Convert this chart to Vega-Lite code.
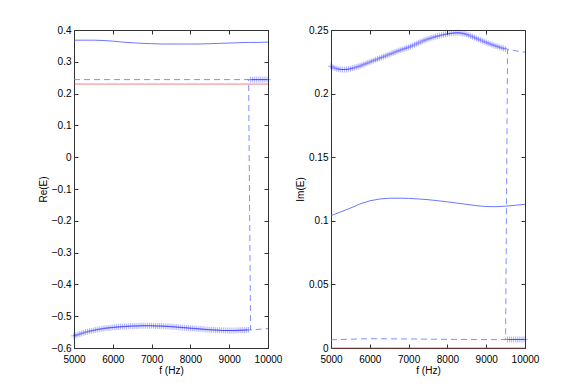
{
"$schema":"https://vega.github.io/schema/vega-lite/v6.json",
"background":"white",
"padding":{"left":37,"top":24,"right":5,"bottom":5},
"spacing":63,
"bounds":"flush",
"config":{
 "view":{"stroke":"#333333","strokeWidth":1},
 "axis":{"labelFont":"Liberation Sans","labelFontSize":10,"labelColor":"#000000","titleFont":"Liberation Sans","titleFontSize":10,"titleFontWeight":"normal","titleColor":"#000000","tickColor":"#333333","domainColor":"#333333","tickSize":-4,"grid":false,"labelPadding":7,"titlePadding":3,"labelOverlap":false,"labelFlush":false},
 "axisBottom":{"labelPadding":10,"titlePadding":1}
},
"datasets":{
 "reS":[{"f":5000,"v":0.368},{"f":5250,"v":0.368},{"f":5500,"v":0.368},{"f":5750,"v":0.367},{"f":6000,"v":0.365},{"f":6250,"v":0.362},{"f":6500,"v":0.36},{"f":6750,"v":0.358},{"f":7000,"v":0.357},{"f":7250,"v":0.356},{"f":7500,"v":0.356},{"f":7750,"v":0.356},{"f":8000,"v":0.356},{"f":8250,"v":0.356},{"f":8500,"v":0.357},{"f":8750,"v":0.358},{"f":9000,"v":0.359},{"f":9250,"v":0.36},{"f":9500,"v":0.361},{"f":9750,"v":0.361},{"f":10000,"v":0.362}],
 "reR":[{"f":5000,"v":0.23},{"f":10000,"v":0.23}],
 "reB":[{"f":5000,"v":0.244},{"f":9500,"v":0.244},{"f":9550,"v":-0.543},{"f":10000,"v":-0.539}],
 "reA":[{"f":5000,"v":-0.562},{"f":5050,"v":-0.56},{"f":5100,"v":-0.558},{"f":5150,"v":-0.556},{"f":5200,"v":-0.554},{"f":5250,"v":-0.552},{"f":5300,"v":-0.55},{"f":5350,"v":-0.549},{"f":5400,"v":-0.547},{"f":5450,"v":-0.546},{"f":5500,"v":-0.545},{"f":5550,"v":-0.543},{"f":5600,"v":-0.542},{"f":5650,"v":-0.541},{"f":5700,"v":-0.54},{"f":5750,"v":-0.539},{"f":5800,"v":-0.538},{"f":5850,"v":-0.537},{"f":5900,"v":-0.537},{"f":5950,"v":-0.536},{"f":6000,"v":-0.535},{"f":6050,"v":-0.535},{"f":6100,"v":-0.534},{"f":6150,"v":-0.534},{"f":6200,"v":-0.533},{"f":6250,"v":-0.533},{"f":6300,"v":-0.532},{"f":6350,"v":-0.532},{"f":6400,"v":-0.532},{"f":6450,"v":-0.531},{"f":6500,"v":-0.531},{"f":6550,"v":-0.531},{"f":6600,"v":-0.531},{"f":6650,"v":-0.531},{"f":6700,"v":-0.53},{"f":6750,"v":-0.53},{"f":6800,"v":-0.53},{"f":6850,"v":-0.53},{"f":6900,"v":-0.53},{"f":6950,"v":-0.53},{"f":7000,"v":-0.53},{"f":7050,"v":-0.53},{"f":7100,"v":-0.531},{"f":7150,"v":-0.531},{"f":7200,"v":-0.531},{"f":7250,"v":-0.531},{"f":7300,"v":-0.531},{"f":7350,"v":-0.532},{"f":7400,"v":-0.532},{"f":7450,"v":-0.532},{"f":7500,"v":-0.533},{"f":7550,"v":-0.533},{"f":7600,"v":-0.534},{"f":7650,"v":-0.534},{"f":7700,"v":-0.535},{"f":7750,"v":-0.535},{"f":7800,"v":-0.536},{"f":7850,"v":-0.536},{"f":7900,"v":-0.537},{"f":7950,"v":-0.537},{"f":8000,"v":-0.538},{"f":8050,"v":-0.538},{"f":8100,"v":-0.539},{"f":8150,"v":-0.539},{"f":8200,"v":-0.54},{"f":8250,"v":-0.54},{"f":8300,"v":-0.541},{"f":8350,"v":-0.541},{"f":8400,"v":-0.542},{"f":8450,"v":-0.542},{"f":8500,"v":-0.543},{"f":8550,"v":-0.543},{"f":8600,"v":-0.543},{"f":8650,"v":-0.544},{"f":8700,"v":-0.544},{"f":8750,"v":-0.544},{"f":8800,"v":-0.545},{"f":8850,"v":-0.545},{"f":8900,"v":-0.545},{"f":8950,"v":-0.545},{"f":9000,"v":-0.545},{"f":9050,"v":-0.545},{"f":9100,"v":-0.545},{"f":9150,"v":-0.545},{"f":9200,"v":-0.545},{"f":9250,"v":-0.544},{"f":9300,"v":-0.544},{"f":9350,"v":-0.544},{"f":9400,"v":-0.544},{"f":9450,"v":-0.543},{"f":9500,"v":-0.543},{"f":9550,"v":0.244},{"f":9600,"v":0.244},{"f":9650,"v":0.244},{"f":9700,"v":0.244},{"f":9750,"v":0.244},{"f":9800,"v":0.244},{"f":9850,"v":0.244},{"f":9900,"v":0.244},{"f":9950,"v":0.244},{"f":10000,"v":0.244}],
 "imS":[{"f":5000,"v":0.104},{"f":5250,"v":0.107},{"f":5500,"v":0.11},{"f":5750,"v":0.1133},{"f":6000,"v":0.1157},{"f":6250,"v":0.1171},{"f":6500,"v":0.1177},{"f":6750,"v":0.1178},{"f":7000,"v":0.1176},{"f":7250,"v":0.1172},{"f":7500,"v":0.1166},{"f":7750,"v":0.1158},{"f":8000,"v":0.1149},{"f":8250,"v":0.1139},{"f":8500,"v":0.1129},{"f":8750,"v":0.1119},{"f":9000,"v":0.1112},{"f":9250,"v":0.1111},{"f":9500,"v":0.1115},{"f":9750,"v":0.1122},{"f":10000,"v":0.113}],
 "imR":[{"f":5000,"v":0},{"f":10000,"v":0}],
 "imB":[{"f":5000,"v":0.0065},{"f":6000,"v":0.0073},{"f":7000,"v":0.0071},{"f":8000,"v":0.0068},{"f":9000,"v":0.0066},{"f":9500,"v":0.0066},{"f":9550,"v":0.2346},{"f":10000,"v":0.2325}],
 "imA":[{"f":5000,"v":0.2215},{"f":5050,"v":0.2207},{"f":5100,"v":0.22},{"f":5150,"v":0.2195},{"f":5200,"v":0.2192},{"f":5250,"v":0.219},{"f":5300,"v":0.2189},{"f":5350,"v":0.2189},{"f":5400,"v":0.219},{"f":5450,"v":0.2192},{"f":5500,"v":0.2195},{"f":5550,"v":0.2199},{"f":5600,"v":0.2203},{"f":5650,"v":0.2208},{"f":5700,"v":0.2213},{"f":5750,"v":0.2218},{"f":5800,"v":0.2224},{"f":5850,"v":0.223},{"f":5900,"v":0.2236},{"f":5950,"v":0.2242},{"f":6000,"v":0.2248},{"f":6050,"v":0.2254},{"f":6100,"v":0.226},{"f":6150,"v":0.2266},{"f":6200,"v":0.2272},{"f":6250,"v":0.2278},{"f":6300,"v":0.2284},{"f":6350,"v":0.229},{"f":6400,"v":0.2296},{"f":6450,"v":0.2302},{"f":6500,"v":0.2308},{"f":6550,"v":0.2314},{"f":6600,"v":0.232},{"f":6650,"v":0.2326},{"f":6700,"v":0.2332},{"f":6750,"v":0.2338},{"f":6800,"v":0.2343},{"f":6850,"v":0.2349},{"f":6900,"v":0.2354},{"f":6950,"v":0.2359},{"f":7000,"v":0.2364},{"f":7050,"v":0.237},{"f":7100,"v":0.2377},{"f":7150,"v":0.2384},{"f":7200,"v":0.2391},{"f":7250,"v":0.2398},{"f":7300,"v":0.2405},{"f":7350,"v":0.2412},{"f":7400,"v":0.2418},{"f":7450,"v":0.2424},{"f":7500,"v":0.2429},{"f":7550,"v":0.2434},{"f":7600,"v":0.2439},{"f":7650,"v":0.2444},{"f":7700,"v":0.2448},{"f":7750,"v":0.2452},{"f":7800,"v":0.2456},{"f":7850,"v":0.246},{"f":7900,"v":0.2463},{"f":7950,"v":0.2466},{"f":8000,"v":0.2469},{"f":8050,"v":0.2472},{"f":8100,"v":0.2474},{"f":8150,"v":0.2476},{"f":8200,"v":0.2477},{"f":8250,"v":0.2478},{"f":8300,"v":0.2478},{"f":8350,"v":0.2476},{"f":8400,"v":0.2473},{"f":8450,"v":0.2469},{"f":8500,"v":0.2465},{"f":8550,"v":0.2459},{"f":8600,"v":0.2453},{"f":8650,"v":0.2447},{"f":8700,"v":0.244},{"f":8750,"v":0.2434},{"f":8800,"v":0.2427},{"f":8850,"v":0.2421},{"f":8900,"v":0.2414},{"f":8950,"v":0.2408},{"f":9000,"v":0.2402},{"f":9050,"v":0.2396},{"f":9100,"v":0.239},{"f":9150,"v":0.2385},{"f":9200,"v":0.2379},{"f":9250,"v":0.2374},{"f":9300,"v":0.2369},{"f":9350,"v":0.2364},{"f":9400,"v":0.2359},{"f":9450,"v":0.2355},{"f":9500,"v":0.235},{"f":9550,"v":0.0067},{"f":9600,"v":0.0067},{"f":9650,"v":0.0067},{"f":9700,"v":0.0067},{"f":9750,"v":0.0067},{"f":9800,"v":0.0067},{"f":9850,"v":0.0067},{"f":9900,"v":0.0067},{"f":9950,"v":0.0067},{"f":10000,"v":0.0067}]
},
"hconcat":[
 {"width":194,"height":318,
  "layer":[
   {"data":{"name":"reS"},"mark":{"type":"line","color":"#4455ff","strokeWidth":0.8},
    "encoding":{"x":{"field":"f","type":"quantitative","scale":{"domain":[5000,10000],"nice":false},"axis":{"orient":"bottom","values":[5000,6000,7000,8000,9000,10000],"format":"d","title":"f (Hz)"}},
                "y":{"field":"v","type":"quantitative","scale":{"domain":[-0.6,0.4],"nice":false,"zero":false},"axis":{"orient":"left","values":[-0.6,-0.5,-0.4,-0.3,-0.2,-0.1,0,0.1,0.2,0.3,0.4],"format":".1~f","title":"Re(E)"}}}},
   {"data":{"name":"reR"},"mark":{"type":"line","color":"#e03030","strokeWidth":0.6},
    "encoding":{"x":{"field":"f","type":"quantitative","axis":{"orient":"top","values":[5000,6000,7000,8000,9000,10000],"labels":false,"title":null,"domain":false}},
                "y":{"field":"v","type":"quantitative","axis":{"orient":"right","values":[-0.6,-0.5,-0.4,-0.3,-0.2,-0.1,0,0.1,0.2,0.3,0.4],"labels":false,"title":null,"domain":false}}}},
   {"data":{"name":"reB"},"mark":{"type":"line","color":"#6272ff","strokeWidth":0.8,"strokeDash":[6,4]},
    "encoding":{"x":{"field":"f","type":"quantitative","axis":null},"y":{"field":"v","type":"quantitative","axis":null}}},
   {"data":{"name":"reA"},"mark":{"type":"point","shape":"M-1,0L1,0M0,-1L0,1","size":36,"filled":false,"color":"#0000ff","strokeWidth":0.5,"opacity":0.6},
    "encoding":{"x":{"field":"f","type":"quantitative","axis":null},"y":{"field":"v","type":"quantitative","axis":null}}}
  ],
  "resolve":{"axis":{"x":"independent","y":"independent"}}
 },
 {"width":194,"height":318,
  "layer":[
   {"data":{"name":"imS"},"mark":{"type":"line","color":"#4455ff","strokeWidth":0.8},
    "encoding":{"x":{"field":"f","type":"quantitative","scale":{"domain":[5000,10000],"nice":false},"axis":{"orient":"bottom","values":[5000,6000,7000,8000,9000,10000],"format":"d","title":"f (Hz)"}},
                "y":{"field":"v","type":"quantitative","scale":{"domain":[0,0.25],"nice":false,"zero":false},"axis":{"orient":"left","values":[0,0.05,0.1,0.15,0.2,0.25],"format":".2~f","title":"Im(E)"}}}},
   {"data":{"name":"imR"},"mark":{"type":"line","color":"#e03030","strokeWidth":0.6},
    "encoding":{"x":{"field":"f","type":"quantitative","axis":{"orient":"top","values":[5000,6000,7000,8000,9000,10000],"labels":false,"title":null,"domain":false}},
                "y":{"field":"v","type":"quantitative","axis":{"orient":"right","values":[0,0.05,0.1,0.15,0.2,0.25],"labels":false,"title":null,"domain":false}}}},
   {"data":{"name":"imB"},"mark":{"type":"line","color":"#6272ff","strokeWidth":0.8,"strokeDash":[6,4]},
    "encoding":{"x":{"field":"f","type":"quantitative","axis":null},"y":{"field":"v","type":"quantitative","axis":null}}},
   {"data":{"name":"imA"},"mark":{"type":"point","shape":"M-1,0L1,0M0,-1L0,1","size":36,"filled":false,"color":"#0000ff","strokeWidth":0.5,"opacity":0.6},
    "encoding":{"x":{"field":"f","type":"quantitative","axis":null},"y":{"field":"v","type":"quantitative","axis":null}}}
  ],
  "resolve":{"axis":{"x":"independent","y":"independent"}}
 }
]
}
